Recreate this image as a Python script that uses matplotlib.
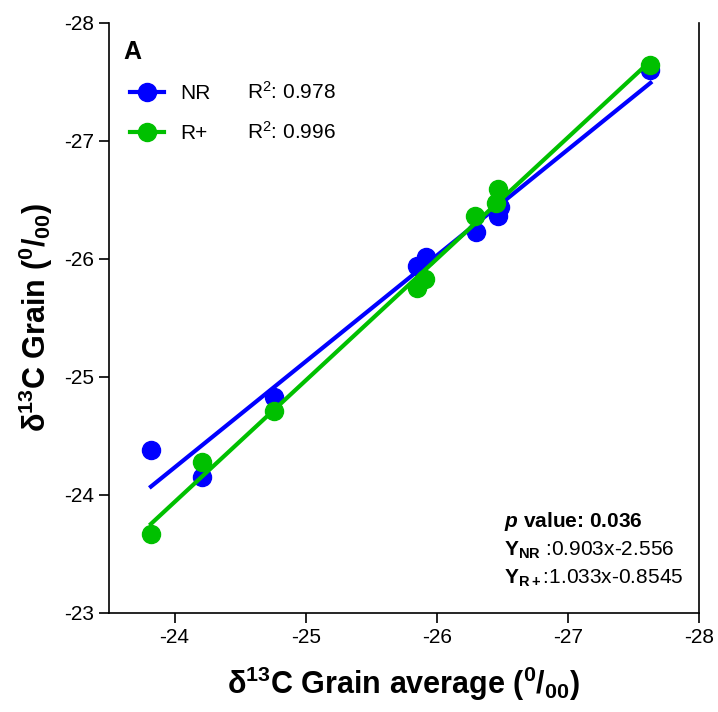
import matplotlib
matplotlib.use("Agg")
import matplotlib.pyplot as plt
import numpy as np
from matplotlib.lines import Line2D

plt.rcParams.update(
    {
        "font.family": "Liberation Sans",
        "axes.unicode_minus": False,
        "mathtext.fontset": "custom",
        "mathtext.rm": "Liberation Sans",
        "mathtext.bf": "Liberation Sans:bold",
        "mathtext.it": "Liberation Sans:italic:bold",
    }
)

BLUE = "#0000ff"
GREEN = "#00c000"

# NR series (x: grain average, y: grain)
nr_x = [-23.82, -24.21, -24.76, -25.85, -25.92, -26.30, -26.47, -26.48, -27.63]
nr_y = [-24.38, -24.15, -24.83, -25.94, -26.02, -26.23, -26.36, -26.44, -27.60]

# R+ series
rp_x = [-23.82, -24.21, -24.76, -25.85, -25.91, -26.29, -26.45, -26.47, -27.63]
rp_y = [-23.67, -24.28, -24.71, -25.75, -25.83, -26.36, -26.47, -26.59, -27.64]

series_labels = ["NR", "R+"]
r2_labels = ["R$^2$: 0.978", "R$^2$: 0.996"]
x_ticks = [-24, -25, -26, -27, -28]
y_ticks = [-23, -24, -25, -26, -27, -28]

fig = plt.figure(figsize=(7.18, 7.12), dpi=100)
ax = fig.add_axes([0.1518, 0.1395, 0.8217, 0.8282])

for xs, ys, col in [(nr_x, nr_y, BLUE), (rp_x, rp_y, GREEN)]:
    xs = np.array(xs)
    ys = np.array(ys)
    ax.plot(xs, ys, "o", color=col, markersize=13, zorder=3)
    k, b = np.polyfit(xs, ys, 1)
    xl = np.array([xs.min(), xs.max()])
    ax.plot(xl, k * xl + b, "-", color=col, linewidth=3, zorder=3)

ax.set_xlim(-23.5, -28)
ax.set_ylim(-23, -28)
ax.set_xticks(x_ticks)
ax.set_yticks(y_ticks)
ax.tick_params(labelsize=15, width=1.2, length=7.5, direction="out")
for s in ["left", "bottom", "right"]:
    ax.spines[s].set_linewidth(1.2)
ax.spines["top"].set_visible(False)

ax.set_xlabel(r"δ$^{\mathbf{13}}$C Grain average ($^{\mathbf{0}}$/$_{\mathbf{00}}$)",
              fontsize=22, fontweight="bold", labelpad=13)
ax.set_ylabel(r"δ$^{\mathbf{13}}$C Grain ($^{\mathbf{0}}$/$_{\mathbf{00}}$)",
              fontsize=22, fontweight="bold", labelpad=6)

ax.text(0.024, 0.951, "A", transform=ax.transAxes, fontsize=18,
        fontweight="bold", va="center", ha="left")

handles = [
    Line2D([], [], color=BLUE, marker="o", markersize=13, linewidth=3),
    Line2D([], [], color=GREEN, marker="o", markersize=13, linewidth=3),
]
ax.legend(handles, series_labels, loc="upper left", bbox_to_anchor=(0.036, 0.896),
          frameon=False, fontsize=15, handlelength=1.6, handletextpad=0.8,
          labelspacing=1.0, borderpad=0, borderaxespad=0)
for lab, yy in zip(r2_labels, [0.883, 0.815]):
    ax.text(0.234, yy, lab, transform=ax.transAxes, fontsize=15,
            va="center", ha="left")

ax.text(0.67, 0.155, r"$\mathit{p}$ value: 0.036", transform=ax.transAxes,
        fontsize=15, fontweight="bold", va="center")
ax.text(0.67, 0.105, r"$\mathbf{Y_{NR}}$ :0.903x-2.556", transform=ax.transAxes,
        fontsize=15, va="center")
ax.text(0.67, 0.058, r"$\mathbf{Y_{R+}}$:1.033x-0.8545", transform=ax.transAxes,
        fontsize=15, va="center")

fig.savefig("out.png", dpi=100)
